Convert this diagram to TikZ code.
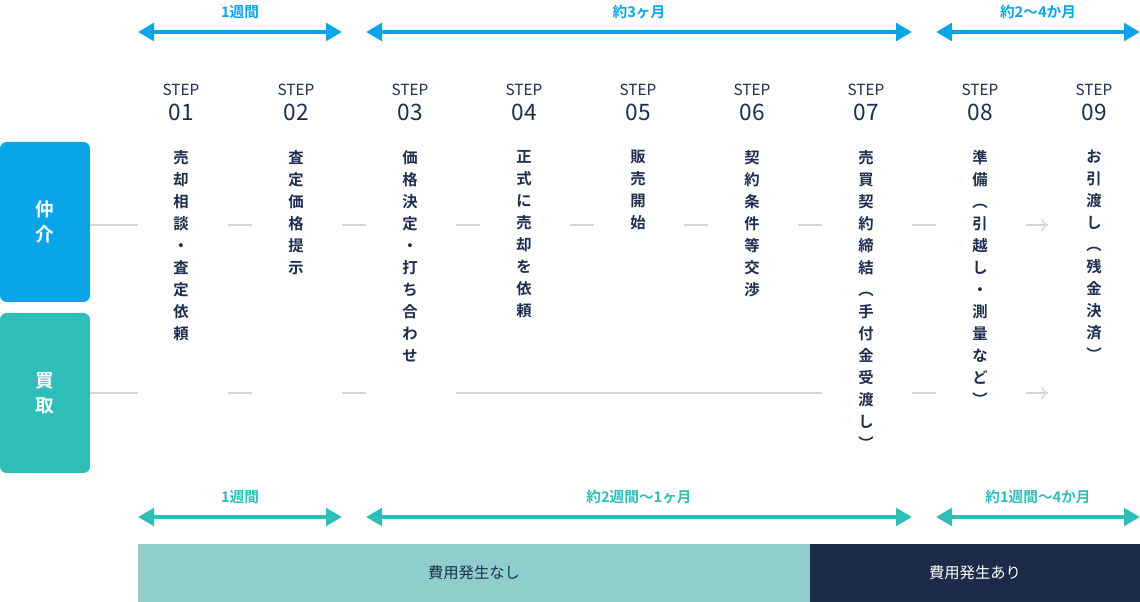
\documentclass[tikz,border=0pt]{standalone}
\usepackage{fontspec}
\setmainfont{Noto Sans CJK JP}[BoldFont={Noto Sans CJK JP Bold}]
\usepackage{tikz}
\usetikzlibrary{positioning,arrows.meta}
\definecolor{navy}{HTML}{1E2D4E}
\definecolor{bblue}{HTML}{0AA5E8}
\definecolor{tteal}{HTML}{2FBDB8}
\definecolor{lteal}{HTML}{8ECFCC}
\definecolor{dnavy}{HTML}{1C2B4A}
\definecolor{lgray}{HTML}{D4D4D4}
\tikzset{
  tate/.style={anchor=north, align=center, text=navy, font=\bfseries\fontsize{11.5}{16.5}\selectfont, inner sep=0pt},
  steplbl/.style={align=center, text=navy, font=\fontsize{11.5}{13}\selectfont},
  num/.style={text=navy, font=\fontsize{17}{17}\selectfont},
  link/.style={lgray, line width=1.5pt},
  span/.style={{Triangle[length=12pt,width=13pt]}-{Triangle[length=12pt,width=13pt]}, line width=3pt},
  spanlbl/.style={font=\bfseries\fontsize{11}{11}\selectfont},
  tag/.style={rounded corners=5pt, text=white, font=\bfseries\fontsize{14}{19}\selectfont, align=center}
}
\begin{document}
\begin{tikzpicture}[x=0.75pt,y=-0.75pt]
  \useasboundingbox (0,0) rectangle (1140,602);

  % left tags
  \fill[bblue, rounded corners=5pt] (0,142) rectangle (90,302);
  \fill[tteal, rounded corners=5pt] (0,313) rectangle (90,473);
  \node[tag] (chukai) at (45,222) {仲\\介};
  \node[tag] (kaitori) at (45,393) {買\\取};

  % period arrows
  \coordinate (t1a) at (138,32); \coordinate (t1b) at (342,32);
  \coordinate (t2a) at (366,32); \coordinate (t2b) at (912,32);
  \coordinate (t3a) at (936,32); \coordinate (t3b) at (1140,32);
  \draw[span, bblue] (t1a) -- node[spanlbl, above=5pt]{1週間} (t1b);
  \draw[span, bblue] (t2a) -- node[spanlbl, above=5pt]{約3ヶ月} (t2b);
  \draw[span, bblue] (t3a) -- node[spanlbl, above=5pt]{約2〜4か月} (t3b);
  \coordinate (b1a) at (138,517); \coordinate (b1b) at (342,517);
  \coordinate (b2a) at (366,517); \coordinate (b2b) at (912,517);
  \coordinate (b3a) at (936,517); \coordinate (b3b) at (1140,517);
  \draw[span, tteal] (b1a) -- node[spanlbl, above=5pt]{1週間} (b1b);
  \draw[span, tteal] (b2a) -- node[spanlbl, above=5pt]{約2週間〜1ヶ月} (b2b);
  \draw[span, tteal] (b3a) -- node[spanlbl, above=5pt]{約1週間〜4か月} (b3b);

  % steps
  \foreach \i/\x in {1/181,2/296,3/410,4/524,5/638,6/752,7/866,8/980,9/1094}{
    \node[steplbl] (s\i) at (\x,90) {STEP};
    \node[num] (n\i) at (\x,112) {0\i};
  }
  \node[tate] (d1) at (181,150) {売\\却\\相\\談\\・\\査\\定\\依\\頼};
  \node[tate] (d2) at (296,150) {査\\定\\価\\格\\提\\示};
  \node[tate] (d3) at (410,150) {価\\格\\決\\定\\・\\打\\ち\\合\\わ\\せ};
  \node[tate] (d4) at (524,150) {正\\式\\に\\売\\却\\を\\依\\頼};
  \node[tate] (d5) at (638,150) {販\\売\\開\\始};
  \node[tate] (d6) at (752,150) {契\\約\\条\\件\\等\\交\\渉};
  \node[tate] (d7) at (866,150) {売\\買\\契\\約\\締\\結\\︵\\手\\付\\金\\受\\渡\\し\\︶};
  \node[tate] (d8) at (980,150) {準\\備\\︵\\引\\越\\し\\・\\測\\量\\な\\ど\\︶};
  \node[tate] (d9) at (1094,150) {お\\引\\渡\\し\\︵\\残\\金\\決\\済\\︶};

  % links
  \foreach \y in {225,393}{
    \draw[link] (90,\y) -- (138,\y);
    \draw[link] (228,\y) -- (252,\y);
    \draw[link] (342,\y) -- (366,\y);
    \draw[link] (912,\y) -- (936,\y);
    \draw[lgray, line width=1pt, -{To[length=5pt,width=10pt]}] (1026,\y) -- (1048,\y);
  }
  \foreach \xa/\xb in {456/480,570/594,684/708,798/822}
    \draw[link] (\xa,225) -- (\xb,225);
  \draw[link] (456,393) -- (822,393);

  % cost bar
  \fill[lteal] (138,544) rectangle (810,602);
  \fill[dnavy] (810,544) rectangle (1140,602);
  \node[text=navy, font=\fontsize{11.5}{12}\selectfont] (free) at (474,573) {費用発生なし};
  \node[text=white, font=\fontsize{11.5}{12}\selectfont] (paid) at (975,573) {費用発生あり};
\end{tikzpicture}
\end{document}
